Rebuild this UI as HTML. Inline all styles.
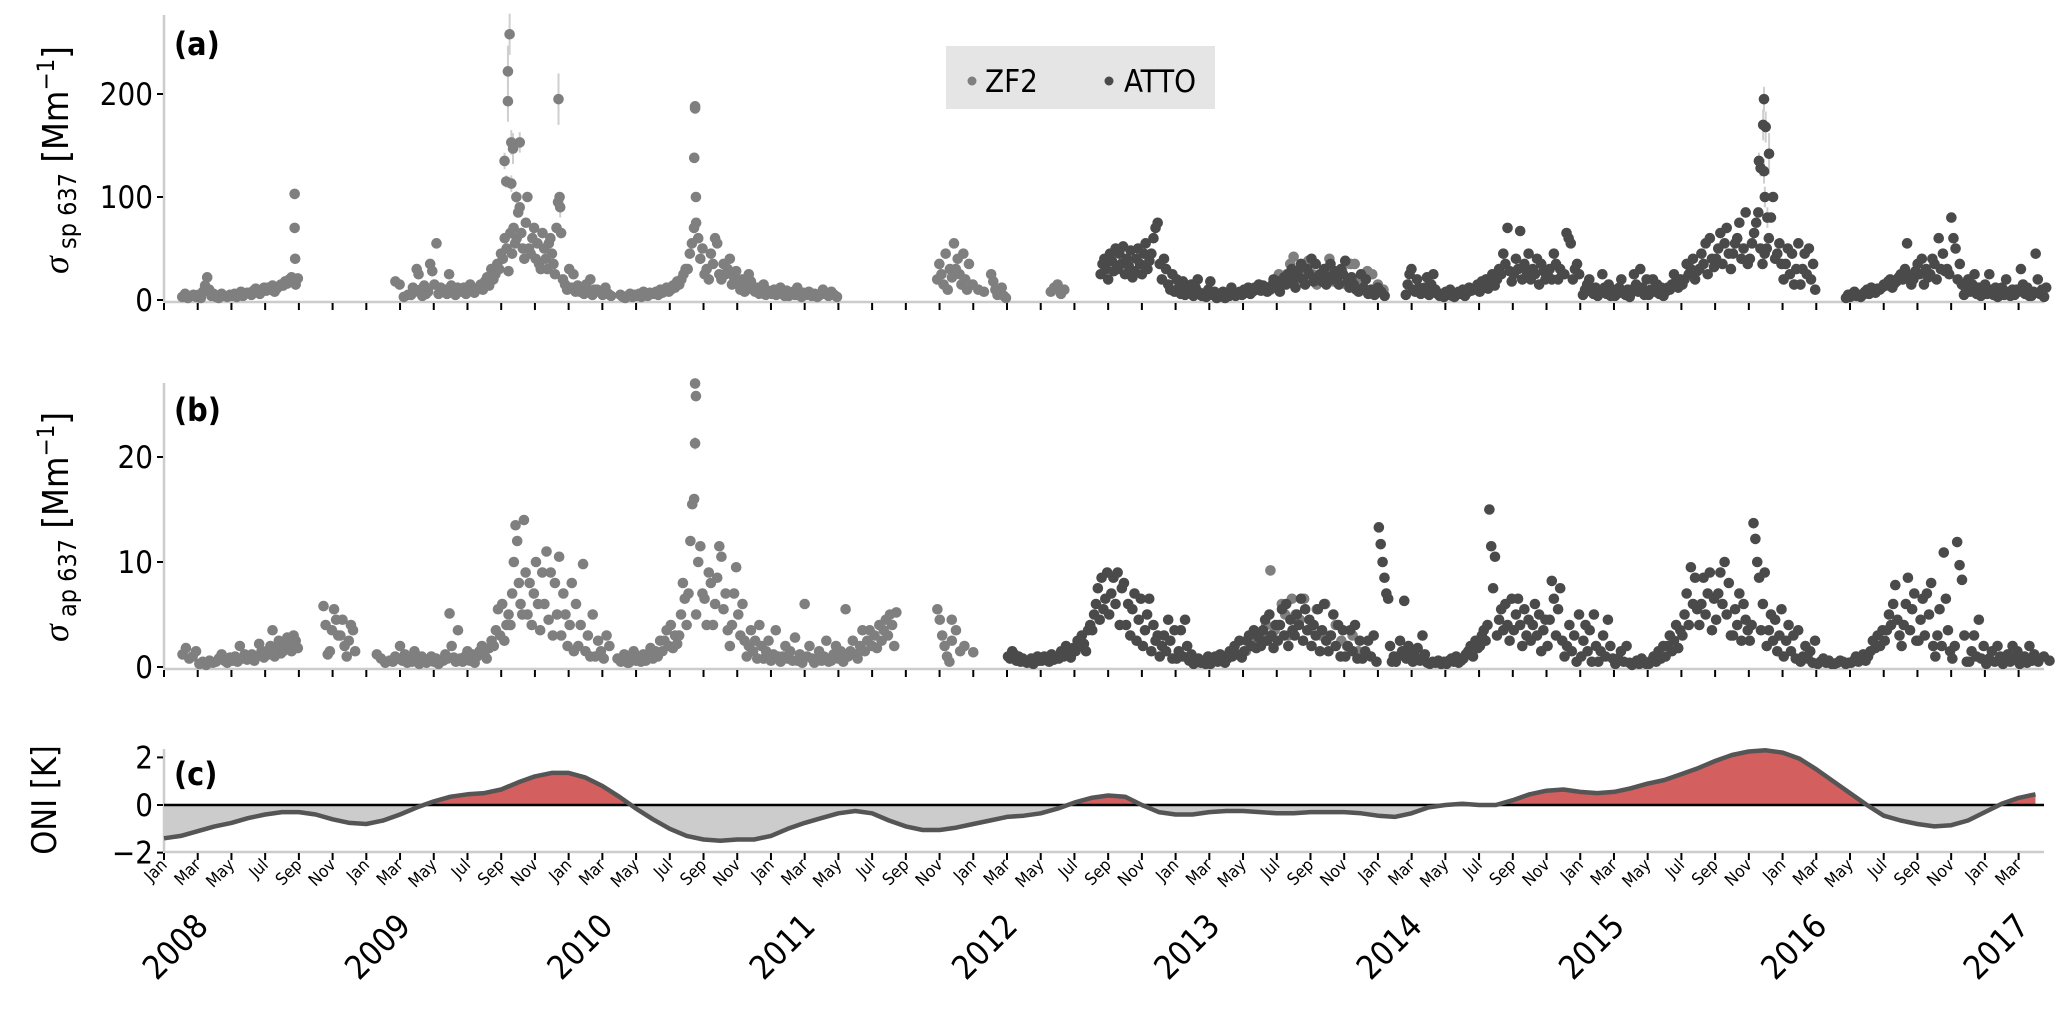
<!DOCTYPE html>
<html><head><meta charset="utf-8"><style>
html,body{margin:0;padding:0;background:#fff}
svg{display:block}
text{font-family:"Liberation Sans Narrow","DejaVu Sans Condensed","Liberation Sans",sans-serif}
</style></head><body>
<svg id="chart" xmlns="http://www.w3.org/2000/svg" width="2067" height="1019" viewBox="0 0 2067 1019">
<g id="axes"></g>
<g id="marks"></g>
<g id="labels">
<text x="174" y="55" font-size="32" font-weight="bold">(a)</text>
<text x="174" y="421" font-size="32" font-weight="bold">(b)</text>
<text x="174" y="785" font-size="32" font-weight="bold">(c)</text>
<text transform="translate(68,160) rotate(-90)" text-anchor="middle" font-size="36"><tspan font-style="italic" font-family="Liberation Serif, serif">σ</tspan><tspan font-size="25" dy="8"> sp 637</tspan><tspan dy="-8"> [Mm</tspan><tspan font-size="24" dy="-14">−1</tspan><tspan dy="14">]</tspan></text>
<text transform="translate(68,527) rotate(-90)" text-anchor="middle" font-size="36"><tspan font-style="italic" font-family="Liberation Serif, serif">σ</tspan><tspan font-size="25" dy="8"> ap 637</tspan><tspan dy="-8"> [Mm</tspan><tspan font-size="24" dy="-14">−1</tspan><tspan dy="14">]</tspan></text>
<text transform="translate(56,800) rotate(-90)" text-anchor="middle" font-size="34">ONI [K]</text>
</g>
<g>
<rect x="946" y="46" width="269" height="63" fill="#e5e5e5"/>
<circle cx="972" cy="81" r="4.5" fill="#7f7f7f"/>
<text x="985" y="92" font-size="31">ZF2</text>
<circle cx="1109" cy="81" r="4.5" fill="#4a4a4a"/>
<text x="1124" y="92" font-size="31">ATTO</text>
</g>
</svg>
<script>
const monthTickLabels=["Jan","Mar","May","Jul","Sep","Nov"];
const yearLabels=["2008","2009","2010","2011","2012","2013","2014","2015","2016","2017"];
const spTicks=[0,100,200];
const apTicks=[0,10,20];
const oniTicks=[-2,0,2];
const oni=[-1.4,-1.3,-1.1,-0.9,-0.75,-0.55,-0.4,-0.3,-0.3,-0.4,-0.6,-0.75,
-0.8,-0.65,-0.4,-0.1,0.15,0.35,0.45,0.5,0.65,0.95,1.2,1.35,
1.35,1.15,0.8,0.35,-0.15,-0.6,-1.0,-1.3,-1.45,-1.5,-1.45,-1.45,
-1.3,-1.0,-0.75,-0.55,-0.35,-0.25,-0.35,-0.65,-0.9,-1.05,-1.05,-0.95,
-0.8,-0.65,-0.5,-0.45,-0.35,-0.15,0.1,0.3,0.4,0.35,0.0,-0.3,
-0.4,-0.4,-0.3,-0.25,-0.25,-0.3,-0.35,-0.35,-0.3,-0.3,-0.3,-0.35,
-0.45,-0.5,-0.35,-0.1,0.0,0.05,0.0,0.0,0.2,0.45,0.6,0.65,
0.55,0.5,0.55,0.7,0.9,1.05,1.3,1.55,1.85,2.1,2.25,2.3,
2.2,1.95,1.5,1.0,0.5,0.0,-0.45,-0.65,-0.8,-0.9,-0.85,-0.65,
-0.3,0.05,0.3,0.45];
const zf2Sp=[[1,3,6,2,4,5,3],[2,5,2,8,14,22,10,4,6],[3,3,2,6,4,3,5],[4,4,6,3,5,8,4,6,7],[5,7,5,9,11,8,6,10,12],[6,9,12,10,14,8,11,13,15],[7,14,18,16,20,22,19,15,21],
[13.6,18,15,3,5],[14.6,5,12,8,30,25,10,4,14,6],[15.6,8,35,28,15,55,6,12,9],[16.6,10,6,25,14,8,5,12,10],[17.6,8,12,6,10,15,9,7,11],[18.6,12,15,10,18,22,14,30,20],[19.6,25,35,30,45,40,60,50,28,65],
[20.6,45,70,55,60,85,90,65,50,40,75,100],[21.6,50,45,60,70,40,55,35,30,65,50],[22.6,40,30,55,60,45,35,25,70,95,100,65],[23.6,20,15,10,30,12,25,8,14],[24.6,8,12,6,15,10,20,5,10],[25.6,10,8,5,12,6,4],
[27,5,3,2,4,6,3,5],[28,4,6,3,8,5,4,7,6],[29,6,8,5,10,7,9,12,8],[30,10,14,12,18,15,20,25,30],[31,30,45,55,70,75,60,40,50],[32,25,30,20,45,35,60,55,25],[33,20,35,25,30,40,15,22,28],[34,15,10,20,8,12,25,18,10],[35,8,12,6,10,15,5,9,7],[36,6,10,5,8,12,7,4,9],[37,4,6,8,5,12,6,3,7],[38,5,8,4,6,3,5],[39,10,6,4,8,5,3],
[45.8,20,35,25,15,45,10,30,22],[46.8,55,30,40,25,15,45,20,10,35],[47.8,15,10,8],[49,25,18,10,5,8,12,4,2],[52.5,8,12,15,6,10],
[65.5,10,20,25,15],[66.5,25,35,42,20,30],[67.5,30,38,25,15],[68.5,20,30,40,18],[69.5,25,30,15,35],[70.5,35,20,12,28],[71.5,25,15,10]];
const zf2SpPeaks=[[7.75,103,4],[7.75,70,4],[7.78,40,3],[20.5,258,20],[20.4,222,25],[20.4,193,20],[20.6,153,12],[21.1,153,10],[20.7,147,15],[20.2,135,8],[20.3,115,6],[20.6,113,8],[20.9,100,6],[23.4,195,25],[23.5,90,10],[31.5,188,4],[31.5,186,4],[31.45,138,4],[31.55,100,4]];
const attoSp=[[55.5,25,35,40,30,20,45,38,28,50],[56.5,30,45,35,52,25,40,33,48,22],[57.5,28,40,50,35,25,45,55,30,38],[58.5,45,60,70,75,35,20,40,30],[59.5,15,10,25,8,20,12,6,18],[60.5,5,10,8,15,4,12,20,7],[61.5,4,6,3,10,18,5,8,2],[62.5,3,5,8,2,6,4,12,5],[63.5,4,6,8,5,10,7,12,6],[64.5,8,12,10,15,9,14,11,8],[65.5,10,14,20,12,18,8,15,22],[66.5,15,25,18,30,20,12,28,22,35],[67.5,20,15,30,25,40,18,35,22],[68.5,25,18,30,15,22,35,20,28],[69.5,20,15,30,25,38,18,12,22],[70.5,15,10,8,25,12,20,6],[71.5,10,5,12,8,4],
[73.6,5,15,25,30,10,8,20,12,6],[74.6,8,12,22,5,15,25,10,6],[75.6,4,6,3,8,5,10,4,3],[76.6,5,8,6,10,4,7,12,9],[77.6,10,12,15,8,18,14,20,11],[78,10,15,12,20,18,25,14],[79,20,30,25,45,35,70,28,18],[80,25,40,30,67,20,35,28,45],[81,20,30,25,40,15,35,28,20],[82,25,30,20,45,35,20,30,25],[83,25,65,60,55,20,30,35,25],
[84.1,5,10,15,20,8,6,12,4],[85,5,8,25,12,6,15,4,10],[86,4,6,12,20,8,5,10,3],[87,10,25,15,8,30,12,5,20],[88,5,10,20,8,15,6,12,4],[89,8,12,10,15,25,18,12,20],[90,15,20,35,25,30,40,20,28],[91,30,45,35,55,25,60,40,32],[92,40,50,65,35,55,70,45,30],[93,45,55,60,75,40,50,85,35],[94,40,55,65,75,85,50,35,45],[95,50,60,80,100,40,45,55,35],[96,20,35,50,25,45,15,30,55],[97,15,30,45,25,50,20,35,10],
[99.7,2,5,3,6,8,4,5,3],[100.7,5,8,10,6,12,9,7,11],[101.7,10,12,15,14,18,20,12,16],[102.7,18,22,25,20,30,55,24,15],[103.7,20,28,35,25,40,15,30,22],[104.7,25,40,35,20,60,30,45,28],[105.7,30,25,80,60,50,20,35,15],[106.7,5,10,20,8,15,25,6,12],[107.7,4,8,15,6,25,10,5,12],[108.7,3,6,12,5,20,8,4,10],[109.7,5,10,8,30,15,6,12,4],[110.7,4,8,45,20,6,10,3,12]];
const attoSpPeaks=[[94.6,135,8],[94.7,128,8],[94.9,195,12],[94.85,170,15],[95.0,168,15],[95.2,142,20],[94.95,100,10],[94.9,125,12],[95.1,80,10]];
const zf2Ap=[[1,1.2,1.8,0.8,1.0,1.5],[2,0.3,0.5,0.2,0.6,0.4],[3,0.5,0.8,1.2,0.6,0.4,0.9],[4,0.6,1.0,0.5,2.0,0.8,1.2,0.7],[5,0.8,1.2,0.6,1.0,2.2,1.5,0.9],[6,1.5,1.2,2.0,3.5,1.0,1.8,2.5,1.3],[7,1.5,2.2,2.8,2.0,1.5,3.0,2.5,1.8],
[9.4,5.8,4.0,1.2,1.5,3.5,5.5,4.5,3.0],[10.4,3.0,4.5,2.0,1.0,2.5,4.0,3.5,1.5],[12.5,1.2,0.8,0.4,0.6],[13.5,0.5,1.0,0.8,2.0,0.6,1.2,0.4],[14.5,0.8,0.5,1.5,0.6,0.3,1.0,0.7],[15.5,0.4,0.6,1.0,0.5,0.8,0.3,0.6],[16.5,0.6,1.2,0.8,5.1,2.0,0.9,0.5,3.5],[17.5,0.8,0.5,1.0,1.5,0.6,1.2,0.4],[18.5,1.0,1.5,2.0,1.2,0.8,1.8,2.5],[19.5,2.0,3.5,5.5,3.0,6.0,2.5,4.0,5.0],
[20.5,4.0,7.0,10.0,13.5,12.0,8.0,6.0,5.0,14.0,9.0],[21.5,5.0,8.0,4.0,7.0,10.0,6.0,3.5,9.0],[22.5,6.0,11.0,4.5,9.0,3.0,8.0,5.0,10.5],[23.5,3.0,7.0,5.0,2.0,4.0,8.0,1.5,6.0],[24.5,2.0,4.0,9.8,1.5,3.0,1.0,5.0],[25.5,1.0,2.5,1.5,0.8,3.0,2.0],
[26.8,0.8,0.5,1.2,0.4,1.0],[27.5,0.4,0.8,1.5,0.6,1.0,0.5,1.2],[28.5,0.6,1.2,1.8,0.8,1.5,1.0,2.5],[29.5,1.5,2.5,3.5,2.0,4.0,1.8,3.0,2.2],[30.5,3.0,5.0,8.0,6.5,4.0,7.0,12.0,15.5,16.0],[31.5,5,10,11.5,7,6.5,4,9,8],[32.5,4,6,8.5,11.5,10.5,5.5,7,3.5],[33.5,2,4,7,9.5,5,3,6,2.5],[34.5,1,2,3.5,1.5,2.5,0.8,4,2],[35.5,0.8,1.5,2.5,0.6,1.2,3.5,1.0],[36.5,0.5,1.0,2.0,0.8,1.5,0.6,2.8],[37.5,0.6,1.2,0.4,6.0,1.0,2.0,0.8],[38.5,0.4,0.8,1.5,0.6,1.0,2.5,0.5],[39.5,0.6,1.2,2.0,0.8,1.5,0.5,5.5],[40.5,1.0,1.5,2.5,1.2,0.8,2.0,3.5],[41.5,1.5,2.5,3.5,2.0,3.0,1.8,4.0],[42.5,2.5,3.5,4.5,3.0,5.0,4.0,2.0,5.2],
[45.8,5.5,4.5,3.0,2.0,1.0,0.5,2.5],[46.6,4.5,3.5,1.5,2.0],
[64,1.5,2.0,2.5],[65,3.0,4.0,9.2,3.5],[66,4.0,6.0,5.0,3.0,6.5],[67,5.0,4.5,6.5,3.5],[68,4.0,5.5,3.0,6.0],[69,3.0,4.0,2.5],[70,2.0,3.0,1.5]];
const zf2ApPeaks=[[31.5,27,0.5],[31.55,25.8,0.5],[31.5,21.3,0.6],[48,1.4,0.1]];
const attoAp=[[50,1.0,0.8,1.5,1.2,0.6,1.0,0.5,0.8],[51,0.5,0.4,0.6,0.8,0.3,0.5,1.0,0.6],[52,0.6,1.0,0.8,0.5,1.2,0.7,0.9],[53,0.8,1.5,1.0,2.0,1.2,0.9,1.8],[54,1.5,2.5,2.0,3.0,2.2,1.5,3.5,4.0],[55,3.5,5.0,6.0,7.5,4.5,8.5,5.5,6.5,9.0],[56,5.0,7.0,8.5,6.0,9.0,4.0,7.5,8.0],[57,4.0,6.0,3.0,5.5,7.0,2.5,4.5,6.5],[58,2.0,3.5,5.0,6.5,1.5,4.0,2.5,3.0],[59,1.0,2.0,3.0,1.5,4.5,2.5,0.8,3.5],[60,0.8,1.5,3.5,1.0,4.5,2.0,0.6,1.2],[61,0.3,0.5,0.8,0.4,0.6,0.3,1.0],[62,0.3,0.6,1.0,0.5,1.2,0.8,0.4],[63,0.8,1.5,1.0,2.0,1.2,2.5,0.9],[64,1.5,2.5,3.0,2.0,3.5,1.8,2.8],[65,2.0,3.5,4.5,2.5,5.0,3.0,1.8,4.0],[66,2.5,4.0,5.5,3.0,6.0,2.0,4.5,3.5],[67,3.0,5.0,4.0,6.5,2.5,5.5,3.5,4.5],[68,2.0,4.0,3.0,5.5,1.5,3.5,6.0,2.5],[69,1.5,3.0,5.0,2.0,4.0,1.0,3.5],[70,1.0,2.0,3.5,1.5,4.0,0.8,2.5],[71,0.8,1.5,2.5,1.0,3.0,0.5],
[72,13.3,11.7,10,8.5,7,6.5,2,0.5,1.0],[73,0.5,1.0,2.5,1.5,6.3,0.8,2.0,1.2],[74,0.5,1.0,1.8,0.6,3.0,1.2,0.4],[75,0.3,0.5,0.4,0.6,0.3,0.5],[76,0.3,0.6,0.8,0.5,1.0,0.4,0.6],[77,0.8,1.2,1.5,2.0,1.0,2.5,1.8],[78,2.0,3.0,3.5,2.5,4.0,15.0,11.5,7.5,10.5],[79,3.0,4.5,5.5,3.5,6.0,4.0,2.5,6.5],[80,3.5,5.0,6.5,4.0,2.0,5.5,3.0,4.5],[81,2.5,4.0,6.0,3.0,5.0,1.5,3.5,4.5],[82,2.0,4.5,8.2,6.5,3.0,5.5,7.5,2.5],[83,1.0,2.0,4.0,1.5,3.0,0.5,5.0],[84,1.0,2.5,4.0,1.5,3.5,0.5,5.0,2.0],[85,0.5,1.5,3.0,1.0,4.5,2.0,0.8],[86,0.3,0.8,1.5,0.5,2.0,0.4],[87,0.2,0.4,0.6,0.3,0.8,0.5,0.3],[88,0.3,0.6,1.0,0.5,1.5,0.8,2.0],[89,1.0,2.0,3.0,1.5,2.5,4.0,1.8,3.5],[90,3.0,5.0,7.0,4.0,9.5,6.0,8.5,5.5],[91,4.0,6.0,8.5,5.0,7.0,9.0,3.5,6.5],[92,4.5,7.0,9.0,6.0,10.0,5.0,8.0,3.0],[93,3.0,5.5,4.0,7.0,2.5,6.0,4.5,3.5],[94,2.5,4.0,13.7,12.2,10.0,8.5,3.5,6.0,9.0],[95,2.0,3.5,5.0,2.5,4.5,1.5,3.0,5.5],[96,1.0,2.5,4.0,1.5,3.0,0.8,3.5],[97,0.5,1.0,2.0,0.8,1.5,0.4,2.5],[98,0.3,0.5,0.8,0.4,0.6,0.3],[99,0.3,0.4,0.6,0.5,0.3,0.4],[100,0.4,0.6,1.0,0.5,0.8,1.2,0.6],[101,1.0,1.5,2.5,1.8,3.0,2.0,3.5],[102,2.5,3.5,5.0,4.0,6.0,7.8,4.5,3.0],[103,2.0,4.0,6.0,8.5,3.5,5.5,7.0,2.5],[104,2.5,4.5,6.5,3.0,7.0,5.0,8.0,2.0],[105,1.0,3.0,5.5,2.0,10.9,6.5,3.5,1.5],[106,0.8,2.0,11.9,9.7,8.3,3.0,0.5],[107,0.5,1.5,3.0,1.0,4.5,0.8,2.0],[108,0.3,0.8,1.5,0.5,2.0,1.0],[109,0.3,0.6,1.2,0.5,2.0,0.8,1.5],[110,0.3,0.5,1.0,0.4,2.0,0.6,1.2],[111,0.5,1.0,0.6]];

const NS="http://www.w3.org/2000/svg";
const X0=164, XM=16.86, XEND=2044, R=5.3;
const xs=m=>X0+m*XM;
const panels={
 a:{zero:300,k:1.03,top:15,ticks:spTicks},
 b:{zero:667,k:10.5,top:383,ticks:apTicks},
 c:{zero:805,k:23.8,top:749,ticks:oniTicks}
};
const ya=v=>panels.a.zero-v*panels.a.k;
const yb=v=>panels.b.zero-v*panels.b.k;
const yc=v=>panels.c.zero-v*panels.c.k;
function mk(tag,attrs,parent){const e=document.createElementNS(NS,tag);for(const k in attrs)e.setAttribute(k,attrs[k]);parent.appendChild(e);return e;}
const axes=document.getElementById('axes'),marks=document.getElementById('marks'),labels=document.getElementById('labels');

function drawAxes(key,ys,bottom){
 const p=panels[key];
 const yl=mk('line',{x1:X0,x2:X0,y1:p.top,y2:bottom,stroke:'#cccccc','stroke-width':2.5},axes);
 
 
 const xl=mk('line',{x1:X0,x2:XEND,y1:bottom,y2:bottom,stroke:'#cccccc','stroke-width':2.5},axes);
 
 
 for(let m=0;m<=110;m+=2){
  const t=mk('line',{x1:xs(m),x2:xs(m),y1:bottom+1,y2:bottom+8,stroke:'#000','stroke-width':2},axes);
  
  
 }
 p.ticks.forEach(v=>{
  const y=ys(v);
  const t=mk('line',{x1:X0-7,x2:X0-1,y1:y,y2:y,stroke:'#000','stroke-width':2},axes);
  
  
  const tx=mk('text',{x:X0-11,y:y+11,'text-anchor':'end','font-size':31},labels);
  tx.textContent=(v<0?'\u2212':'')+Math.abs(v);
  
  
 });
}
drawAxes('a',ya,302);
drawAxes('b',yb,669);
drawAxes('c',yc,852);

function drawRows(rows,ys,color,name){
 rows.forEach(r=>{
  const m0=r[0],vals=r.slice(1),n=vals.length;
  vals.forEach((v,k)=>{
   const c=mk('circle',{cx:xs(m0+(k+0.5)/n),cy:ys(v),r:R,fill:color},marks);
   
   
  });
 });
}
function drawPeaks(pk,ys,color,name){
 pk.forEach(p=>{
  const l=mk('line',{x1:xs(p[0]),x2:xs(p[0]),y1:ys(p[1]+p[2]),y2:ys(p[1]-p[2]),stroke:'#cfcfcf','stroke-width':2},marks);
  
  
 });
 pk.forEach(p=>{
  const c=mk('circle',{cx:xs(p[0]),cy:ys(p[1]),r:R,fill:color},marks);
  
  
 });
}
const ZF2C='#7f7f7f',ATTOC='#4a4a4a';
drawPeaks(zf2SpPeaks,ya,ZF2C,'zf2-scattering');
drawRows(zf2Sp,ya,ZF2C,'zf2-scattering');
drawRows(attoSp,ya,ATTOC,'atto-scattering');
drawPeaks(attoSpPeaks,ya,ATTOC,'atto-scattering');
drawPeaks(zf2ApPeaks,yb,ZF2C,'zf2-absorption');
drawRows(zf2Ap,yb,ZF2C,'zf2-absorption');
drawRows(attoAp,yb,ATTOC,'atto-absorption');

const defs=mk('defs',{},document.getElementById('chart'));
const cpUp=mk('clipPath',{id:'up'},defs);mk('rect',{x:0,y:0,width:2067,height:yc(0)},cpUp);
const cpDn=mk('clipPath',{id:'dn'},defs);mk('rect',{x:0,y:yc(0),width:2067,height:300},cpDn);
const pts=oni.map((v,i)=>xs(i).toFixed(1)+','+yc(v).toFixed(1));
const area='M'+xs(0)+','+yc(0)+' L'+pts.join(' L')+' L'+xs(oni.length-1)+','+yc(0)+' Z';
const ar=mk('path',{d:area,fill:'#d45f5f','clip-path':'url(#up)'},marks);


const ag=mk('path',{d:area,fill:'#cccccc','clip-path':'url(#dn)'},marks);


const zl=mk('line',{x1:X0,x2:XEND,y1:yc(0),y2:yc(0),stroke:'#000','stroke-width':2.5},marks);


const ol=mk('path',{d:'M'+pts.join(' L'),fill:'none',stroke:'#555','stroke-width':4.5,'stroke-linejoin':'round'},marks);



for(let m=0;m<=110;m+=2){
 const x=xs(m)+4,y=866;
 const t=mk('text',{x:x,y:y,'text-anchor':'end','font-size':17,transform:'rotate(-45 '+x+' '+y+')'},labels);
 t.textContent=monthTickLabels[(m%12)/2];
 
 
}
yearLabels.forEach((yr,i)=>{
 const x=xs(i*12)+46,y=928;
 const t=mk('text',{x:x,y:y,'text-anchor':'end','font-size':33,transform:'rotate(-45 '+x+' '+y+')'},labels);
 t.textContent=yr;
 
 
});
</script>
</body></html>
